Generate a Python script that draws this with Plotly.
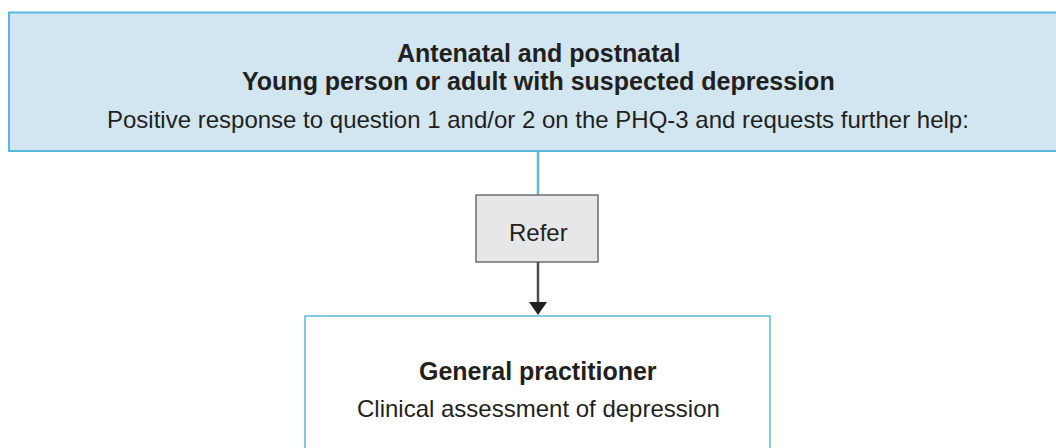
import plotly.graph_objects as go

# Text content
top_titles = ["Antenatal and postnatal", "Young person or adult with suspected depression"]
top_subtitle = "Positive response to question 1 and/or 2 on the PHQ-3 and requests further help:"
refer_label = "Refer"
gp_title = "General practitioner"
gp_subtitle = "Clinical assessment of depression"

W, H = 1056, 448
BLUE = "#5bb8de"
TOPFILL = "#d1e6f1"
GREYFILL = "#e6e7e9"
GREYLINE = "#6e6f71"
DARK = "#231f20"
FONT = "Liberation Sans, Arial, sans-serif"

fig = go.Figure()
fig.add_trace(go.Scatter(x=[0, W], y=[0, H], mode="markers", marker=dict(opacity=0), hoverinfo="skip", showlegend=False))

shapes = [
    # top box
    dict(type="rect", x0=9, y0=12.5, x1=1070, y1=151, fillcolor=TOPFILL, line=dict(color=BLUE, width=2)),
    # connector
    dict(type="line", x0=538, y0=151, x1=538, y1=195, line=dict(color=BLUE, width=2.5)),
    # refer box
    dict(type="rect", x0=476, y0=195, x1=598, y1=262, fillcolor=GREYFILL, line=dict(color=GREYLINE, width=1.5)),
    # arrow shaft
    dict(type="line", x0=538, y0=262, x1=538, y1=304, line=dict(color="#4d4d4f", width=2.5)),
    # arrow head
    dict(type="path", path="M 529 302 L 547 302 L 538 315 Z", fillcolor="#231f20", line=dict(color="#231f20", width=0)),
    # bottom box
    dict(type="rect", x0=305, y0=316, x1=770, y1=470, fillcolor="white", line=dict(color=BLUE, width=1.5)),
]

ann = []
ann.append(dict(x=538, y=53, text="<b>%s</b>" % top_titles[0], font=dict(size=25)))
ann.append(dict(x=538, y=81, text="<b>%s</b>" % top_titles[1], font=dict(size=25)))
ann.append(dict(x=538, y=119, text=top_subtitle, font=dict(size=24)))
ann.append(dict(x=538, y=232, text=refer_label, font=dict(size=24)))
ann.append(dict(x=538, y=371, text="<b>%s</b>" % gp_title, font=dict(size=25)))
ann.append(dict(x=538, y=408, text=gp_subtitle, font=dict(size=24)))
for a in ann:
    a.update(showarrow=False, xref="x", yref="y", xanchor="center", yanchor="middle")
    a["font"].update(family=FONT, color=DARK)

fig.update_layout(
    width=W, height=H, margin=dict(l=0, r=0, t=0, b=0),
    paper_bgcolor="white", plot_bgcolor="white",
    shapes=shapes, annotations=ann,
    xaxis=dict(range=[0, W], visible=False, fixedrange=True),
    yaxis=dict(range=[H, 0], visible=False, fixedrange=True),
    showlegend=False,
)
fig.write_html("out.html", config={"displayModeBar": False},
               post_script="document.body.style.margin='0';document.body.style.overflow='hidden';")
